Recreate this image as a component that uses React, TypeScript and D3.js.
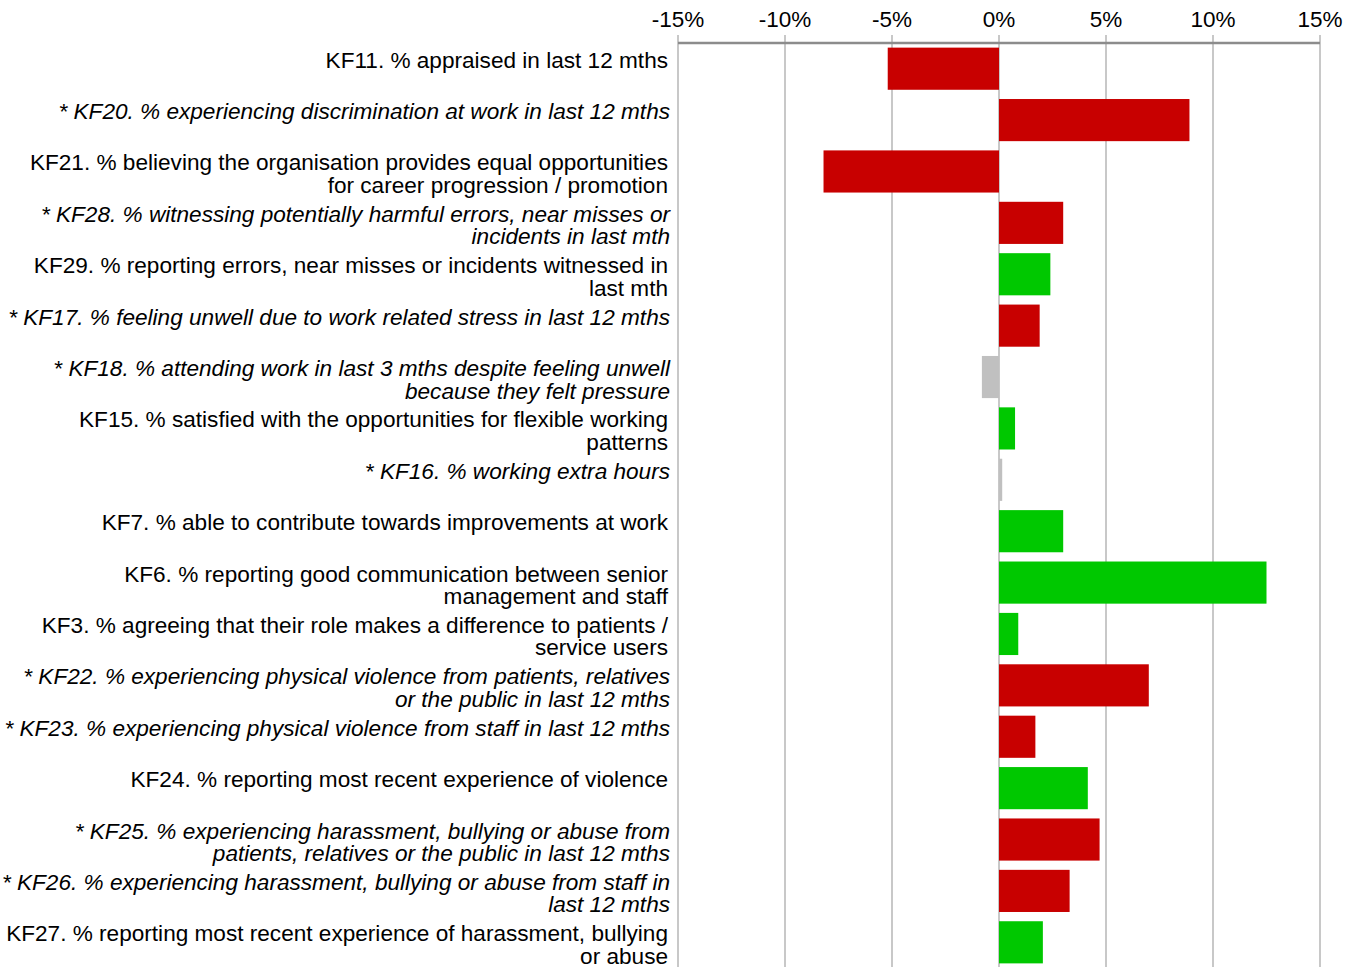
import React from "react"
import * as d3 from "d3"

// categories (label lines as they wrap in the original)
const categories: string[][] = [
  ["KF11. % appraised in last 12 mths"],
  ["* KF20. % experiencing discrimination at work in last 12 mths"],
  ["KF21. % believing the organisation provides equal opportunities", "for career progression / promotion"],
  ["* KF28. % witnessing potentially harmful errors, near misses or", "incidents in last mth"],
  ["KF29. % reporting errors, near misses or incidents witnessed in", "last mth"],
  ["* KF17. % feeling unwell due to work related stress in last 12 mths"],
  ["* KF18. % attending work in last 3 mths despite feeling unwell", "because they felt pressure"],
  ["KF15. % satisfied with the opportunities for flexible working", "patterns"],
  ["* KF16. % working extra hours"],
  ["KF7. % able to contribute towards improvements at work"],
  ["KF6. % reporting good communication between senior", "management and staff"],
  ["KF3. % agreeing that their role makes a difference to patients /", "service users"],
  ["* KF22. % experiencing physical violence from patients, relatives", "or the public in last 12 mths"],
  ["* KF23. % experiencing physical violence from staff in last 12 mths"],
  ["KF24. % reporting most recent experience of violence"],
  ["* KF25. % experiencing harassment, bullying or abuse from", "patients, relatives or the public in last 12 mths"],
  ["* KF26. % experiencing harassment, bullying or abuse from staff in", "last 12 mths"],
  ["KF27. % reporting most recent experience of harassment, bullying", "or abuse"],
]

// change vs comparison, in %
const values = [-5.2, 8.9, -8.2, 3.0, 2.4, 1.9, -0.8, 0.75, 0.15, 3.0, 12.5, 0.9, 7.0, 1.7, 4.15, 4.7, 3.3, 2.05]

// worse / better / no significant change
const status = [
  "worse", "worse", "worse", "worse", "better", "worse", "none", "better", "none",
  "better", "better", "better", "worse", "worse", "better", "worse", "worse", "better",
]

const ticks = [-15, -10, -5, 0, 5, 10, 15]

const colors: Record<string, string> = { worse: "#c80000", better: "#00c800", none: "#c0c0c0" }

export default function App() {
  const width = 1358
  const height = 967
  const margin = { top: 43, right: 38, bottom: 0, left: 678 }

  const x = d3.scaleLinear().domain([-15, 15]).range([margin.left, width - margin.right])
  const y = d3.scaleBand<number>()
    .domain(d3.range(categories.length))
    .range([margin.top, height + 1])
    .paddingInner(0.18)
    .paddingOuter(0.09)

  const font = "'Liberation Sans', Arial, sans-serif"

  return (
    <svg width={width} height={height} style={{ position: "absolute", left: 0, top: 0, background: "#fff" }}>
      {/* gridlines */}
      {ticks.map(t => (
        <line key={"g" + t} x1={x(t)} x2={x(t)} y1={35} y2={height} stroke="#c8c8c8" strokeWidth={2} />
      ))}
      {/* tick labels, plain hyphen like the original */}
      {ticks.map(t => (
        <text key={"t" + t} x={x(t)} y={27} textAnchor="middle" fontFamily={font} fontSize={22.5} fill="#000">
          {String(t) + "%"}
        </text>
      ))}
      {/* bars */}
      {values.map((v, i) => (
        <rect key={"b" + i}
          x={x(Math.min(0, v))}
          y={y(i)}
          width={Math.abs(x(v) - x(0))}
          height={y.bandwidth()}
          fill={colors[status[i]]} />
      ))}
      {/* axis line */}
      <line x1={x(-15)} x2={x(15)} y1={margin.top} y2={margin.top} stroke="#8c8c8c" strokeWidth={2.5} />
      {/* category labels */}
      {categories.map((lines, i) => {
        const italic = lines[0].startsWith("*")
        const cy = (y(i) as number) + y.bandwidth() / 2
        const lx = italic ? 670 : 668
        return (
          <text key={"c" + i} x={lx} y={cy - 1} textAnchor="end"
            fontFamily={font} fontSize={22.6} fontStyle={italic ? "italic" : "normal"} fill="#000">
            {lines.map((l, j) => (
              <tspan key={j} x={lx} dy={j === 0 ? 0 : 22.5}>{l}</tspan>
            ))}
          </text>
        )
      })}
    </svg>
  )
}
